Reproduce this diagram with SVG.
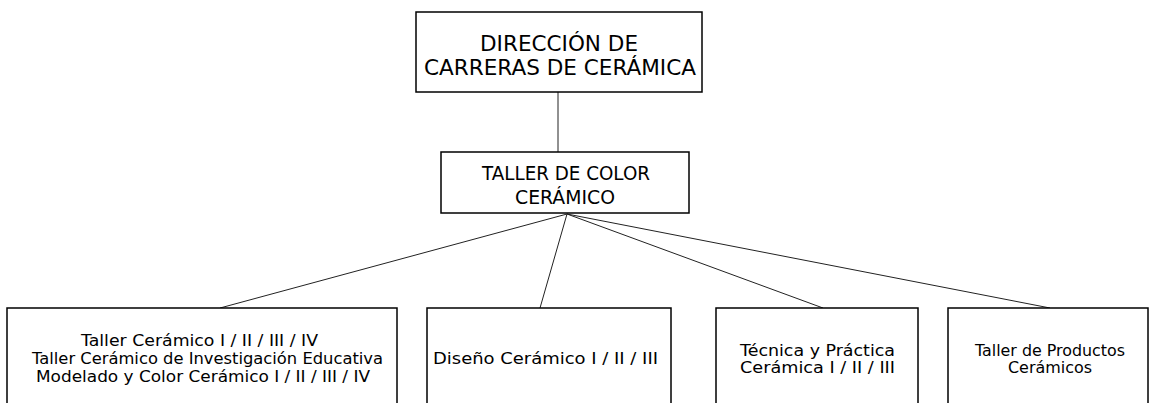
<svg xmlns="http://www.w3.org/2000/svg" width="1151" height="403" viewBox="0 0 1151 403">
<style>
.box{fill:#fff;stroke:#000;stroke-width:1.5}
.t{font-family:"DejaVu Sans",Verdana,sans-serif;fill:#000;text-anchor:middle}
.big{font-size:21px}
.mid{font-size:19px}
.sm{font-size:16px}
.c{stroke:#222;stroke-width:1;fill:none}
</style>
<rect width="1151" height="403" fill="#fff"/>
<g id="connectors">
<line class="c" x1="558" y1="92" x2="558" y2="152"/>
<line class="c" x1="567" y1="214" x2="220" y2="308"/>
<line class="c" x1="567" y1="214" x2="540" y2="308"/>
<line class="c" x1="567" y1="214" x2="823" y2="308"/>
<line class="c" x1="567" y1="214" x2="1050" y2="308"/>
</g>
<g id="direccion">
<rect class="box" x="416" y="12" width="286" height="80"/>
<text class="t big" x="559" y="51" textLength="158" lengthAdjust="spacingAndGlyphs">DIRECCIÓN DE</text>
<text class="t big" x="560" y="75" textLength="272" lengthAdjust="spacingAndGlyphs">CARRERAS DE CERÁMICA</text>
</g>
<g id="taller-color">
<rect class="box" x="441" y="152" width="248" height="61"/>
<text class="t mid" x="566" y="180" textLength="168" lengthAdjust="spacingAndGlyphs">TALLER DE COLOR</text>
<text class="t mid" x="565" y="204" textLength="100" lengthAdjust="spacingAndGlyphs">CERÁMICO</text>
</g>
<g id="taller-ceramico">
<rect class="box" x="7" y="308" width="390" height="110"/>
<text class="t sm" x="199.5" y="346" textLength="237" lengthAdjust="spacingAndGlyphs">Taller Cerámico I / II / III / IV</text>
<text class="t sm" x="207.5" y="364" textLength="351" lengthAdjust="spacingAndGlyphs">Taller Cerámico de Investigación Educativa</text>
<text class="t sm" x="203" y="382" textLength="334" lengthAdjust="spacingAndGlyphs">Modelado y Color Cerámico I / II / III / IV</text>
</g>
<g id="diseno">
<rect class="box" x="427" y="308" width="244" height="110"/>
<text class="t sm" x="545.5" y="364" textLength="225" lengthAdjust="spacingAndGlyphs">Diseño Cerámico I / II / III</text>
</g>
<g id="tecnica">
<rect class="box" x="716" y="308" width="202" height="110"/>
<text class="t sm" x="817.5" y="356" textLength="155" lengthAdjust="spacingAndGlyphs">Técnica y Práctica</text>
<text class="t sm" x="817.5" y="373" textLength="155" lengthAdjust="spacingAndGlyphs">Cerámica I / II / III</text>
</g>
<g id="productos">
<rect class="box" x="948" y="308" width="200" height="110"/>
<text class="t sm" x="1050" y="356" textLength="150" lengthAdjust="spacingAndGlyphs">Taller de Productos</text>
<text class="t sm" x="1050" y="373" textLength="84" lengthAdjust="spacingAndGlyphs">Cerámicos</text>
</g>
</svg>
